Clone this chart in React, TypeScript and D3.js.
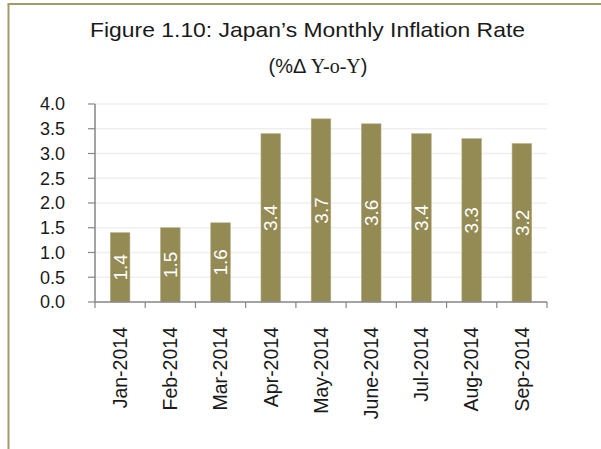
import * as d3 from "d3";

const months = [
  "Jan-2014",
  "Feb-2014",
  "Mar-2014",
  "Apr-2014",
  "May-2014",
  "June-2014",
  "Jul-2014",
  "Aug-2014",
  "Sep-2014",
];
const inflation = [1.4, 1.5, 1.6, 3.4, 3.7, 3.6, 3.4, 3.3, 3.2];
const yTicks = [0, 0.5, 1, 1.5, 2, 2.5, 3, 3.5, 4];
const titleLine1 = "Figure 1.10: Japan\u2019s Monthly Inflation Rate";

const W = 601;
const H = 449;
const margin = { top: 104, right: 54, bottom: 147, left: 95 };

const App = () => {
  const innerW = W - margin.left - margin.right;
  const innerH = H - margin.top - margin.bottom;

  const x = d3.scaleBand<string>().domain(months).range([0, innerW]).paddingInner(0.61).paddingOuter(0.305);
  const y = d3.scaleLinear().domain([0, 4]).range([innerH, 0]);
  const step = x.step();
  const font = "'Liberation Sans', Arial, sans-serif";
  const olive = "#948a54";
  const ink = "#1a1a1a";

  return (
    <svg
      width={W}
      height={H}
      style={{ position: "absolute", left: 0, top: 0, background: "#fff" }}
      fontFamily={font}
    >
      {/* frame */}
      <line x1={8.5} y1={4} x2={8.5} y2={H} stroke="#a39a6a" strokeWidth={2} />
      <line x1={7.5} y1={4} x2={W} y2={4} stroke="#a39a6a" strokeWidth={2} />

      {/* title */}
      <text
        x={307.5}
        y={37}
        textAnchor="middle"
        fontSize={21}
        fill={ink}
        textLength={435}
        lengthAdjust="spacingAndGlyphs"
      >
        {titleLine1}
      </text>
      <text x={318} y={73} textAnchor="middle" fontSize={20} fill={ink}>
        <tspan>(%{"\u0394"} </tspan>
        <tspan fontFamily="'Liberation Serif', serif">Y-o-Y</tspan>
        <tspan>)</tspan>
      </text>

      <g transform={`translate(${margin.left},${margin.top})`}>
        {/* gridlines */}
        {yTicks.slice(1).map((t) => (
          <line key={t} x1={0} x2={innerW} y1={y(t)} y2={y(t)} stroke="#efefef" strokeWidth={1.5} />
        ))}

        {/* bars */}
        {inflation.map((v, i) => {
          const bx = x(months[i])!;
          const bw = x.bandwidth();
          const cy = (y(v) + y(0)) / 2;
          const cx = bx + bw / 2;
          return (
            <g key={months[i]}>
              <rect x={bx} y={y(v)} width={bw} height={y(0) - y(v)} fill={olive} stroke="#b5ad85" strokeWidth={0.6} />
              <text
                transform={`translate(${cx},${cy}) rotate(-90)`}
                textAnchor="middle"
                dy="0.35em"
                fontSize={19}
                fill="#fff"
              >
                {v.toFixed(1)}
              </text>
            </g>
          );
        })}

        {/* y axis */}
        <line x1={0} x2={0} y1={0} y2={innerH} stroke="#868686" strokeWidth={1.5} />
        {yTicks.map((t) => (
          <g key={t}>
            <line x1={-7} x2={0} y1={y(t)} y2={y(t)} stroke="#868686" strokeWidth={1.2} />
            <text x={-30} y={y(t)} dy="0.35em" textAnchor="end" fontSize={18} fill={ink}>
              {t.toFixed(1)}
            </text>
          </g>
        ))}

        {/* x axis */}
        <line x1={0} x2={innerW} y1={innerH} y2={innerH} stroke="#868686" strokeWidth={1.5} />
        {d3.range(months.length + 1).map((i) => (
          <line key={i} x1={i * step} x2={i * step} y1={innerH} y2={innerH + 6} stroke="#868686" strokeWidth={1.2} />
        ))}
        {months.map((m) => (
          <text
            key={m}
            transform={`translate(${x(m)! + x.bandwidth() / 2},${innerH + 25}) rotate(-90)`}
            textAnchor="end"
            dy="0.35em"
            fontSize={19.5}
            fill={ink}
          >
            {m}
          </text>
        ))}
      </g>
    </svg>
  );
};

export default App;
